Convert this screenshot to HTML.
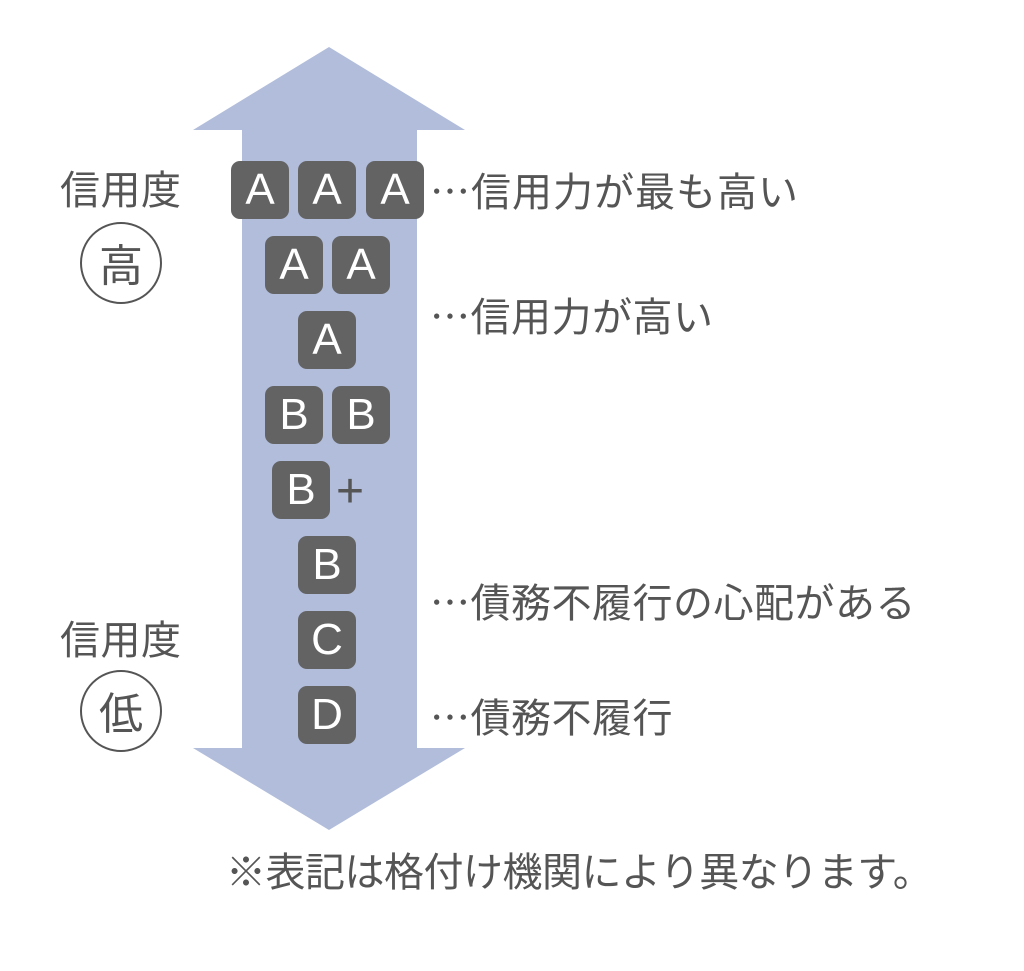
<!DOCTYPE html>
<html><head><meta charset="utf-8"><style>
body{margin:0;width:1024px;height:971px;background:#fff;position:relative;overflow:hidden;font-family:"Noto Sans CJK JP",sans-serif;color:#555}
.b{position:absolute;width:58px;height:58px;background:#636363;border-radius:9px;color:#fff;font-family:"Liberation Sans",sans-serif;font-size:44px;line-height:58px;text-align:center}
.t{position:absolute;font-size:40px;letter-spacing:0.5px;white-space:nowrap;line-height:46px}
.c{position:absolute;width:78px;height:78px;border:2px solid #555;border-radius:50%;font-size:44px;line-height:76px;text-align:center}
</style></head><body>
<svg width="1024" height="971" style="position:absolute;left:0;top:0">
<polygon fill="#b1bdda" points="329,47 465,130 417,130 417,748 465,748 329,830 193,748 242,748 242,130 193,130"/>
</svg>
<div class="b" style="left:231px;top:161px">A</div><div class="b" style="left:298px;top:161px">A</div><div class="b" style="left:366px;top:161px">A</div>
<div class="b" style="left:265px;top:236px">A</div><div class="b" style="left:332px;top:236px">A</div>
<div class="b" style="left:298px;top:311px">A</div>
<div class="b" style="left:265px;top:386px">B</div><div class="b" style="left:332px;top:386px">B</div>
<div class="b" style="left:272px;top:461px">B</div><div class="t" style="left:336px;top:464px;font-size:48px;line-height:56px;font-family:'Liberation Sans',sans-serif">+</div>
<div class="b" style="left:298px;top:536px">B</div>
<div class="b" style="left:298px;top:611px">C</div>
<div class="b" style="left:298px;top:686px">D</div>
<div class="t" style="left:60px;top:164px">信用度</div>
<div class="c" style="left:80px;top:222px">高</div>
<div class="t" style="left:60px;top:614px">信用度</div>
<div class="c" style="left:80px;top:670px">低</div>
<div class="t" style="left:430px;top:166px;letter-spacing:1px">…信用力が最も高い</div>
<div class="t" style="left:430px;top:291px">…信用力が高い</div>
<div class="t" style="left:430px;top:577px">…債務不履行の心配がある</div>
<div class="t" style="left:430px;top:692px">…債務不履行</div>
<div class="t" style="left:226px;top:846px;letter-spacing:-0.5px">※表記は格付け機関により異なります。</div>
</body></html>
